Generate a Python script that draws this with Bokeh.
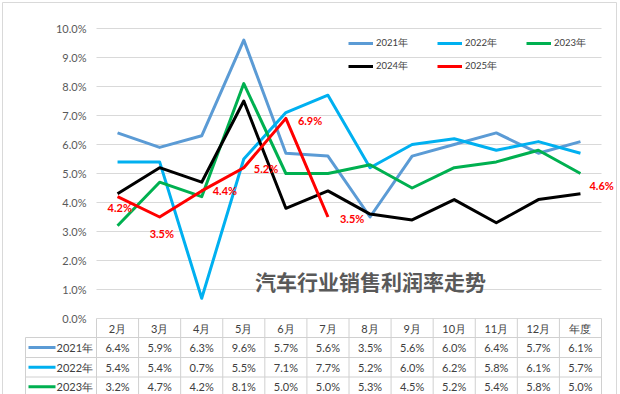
import numpy as np
from bokeh.plotting import figure
from bokeh.models import (Range1d, LinearAxis, FixedTicker, PrintfTickFormatter,
                          ColumnDataSource, Legend, LegendItem)
from bokeh.core.properties import value
from bokeh.embed import file_html
from bokeh.resources import INLINE

# ---------------- data ----------------
categories = ["2月", "3月", "4月", "5月", "6月", "7月", "8月", "9月", "10月", "11月", "12月", "年度"]
years = ["2021年", "2022年", "2023年", "2024年", "2025年"]
s2021 = [6.4, 5.9, 6.3, 9.6, 5.7, 5.6, 3.5, 5.6, 6.0, 6.4, 5.7, 6.1]
s2022 = [5.4, 5.4, 0.7, 5.5, 7.1, 7.7, 5.2, 6.0, 6.2, 5.8, 6.1, 5.7]
s2023 = [3.2, 4.7, 4.2, 8.1, 5.0, 5.0, 5.3, 4.5, 5.2, 5.4, 5.8, 5.0]
s2024 = [4.3, 5.2, 4.7, 7.5, 3.8, 4.4, 3.6, 3.4, 4.1, 3.3, 4.1, 4.3]
NaN = float("nan")
s2025 = [4.2, 3.5, 4.4, 5.2, 6.9, 3.5, NaN, NaN, NaN, NaN, NaN, 4.6]
y_ticks = [0, 1, 2, 3, 4, 5, 6, 7, 8, 9, 10]
title_text = "汽车行业销售利润率走势"

series = [s2021, s2022, s2023, s2024, s2025]
colors = ["#5B9BD5", "#00B0F0", "#00B050", "#000000", "#FF0000"]
table_rows = 3  # rows of the data table visible in the picture

# ---------------- layout (page pixels) ----------------
W, H = 620, 394
TBL_L, COL_L, COL_R = 25, 96, 601
Y0_PX, Y10_PX = 318, 28
PY = (Y0_PX - Y10_PX) / 10.0
CW = (COL_R - COL_L) / 12.0
ROW_BOUNDS = [318, 337, 357, 376.5, 396]
BORDER = (2, 616, 2)  # left, right, top of outer chart border


def X(px):
    return -0.5 + (px - COL_L) / CW


def Y(py):
    return (Y0_PX - py) / PY


p = figure(width=W, height=H, output_backend="svg", toolbar_location=None,
           x_range=Range1d(X(0), X(W)), y_range=Range1d(Y(H), Y(0)),
           x_axis_type=None, y_axis_type=None, min_border=0)
p.outline_line_color = None
p.background_fill_color = "white"
p.border_fill_color = "white"

# outer chart border
bl, br, bt = BORDER
p.segment(x0=[X(bl), X(bl), X(br)], x1=[X(br), X(bl), X(br)],
          y0=[Y(bt), Y(bt), Y(bt)], y1=[Y(bt), Y(H + 2), Y(H + 2)],
          line_color="#D9D9D9", line_width=1)

# y axis (drawn at the left edge of the category columns)
yax = LinearAxis(fixed_location=-0.5, ticker=FixedTicker(ticks=y_ticks),
                 formatter=PrintfTickFormatter(format="%.1f%%"))
yax.axis_line_color = None
yax.major_tick_line_color = None
yax.minor_tick_line_color = None
yax.major_tick_out = 0
yax.major_tick_in = 0
yax.major_label_standoff = 10
yax.major_label_text_font = "Lato"
yax.major_label_text_font_size = "11px"
yax.major_label_text_color = "#595959"
p.add_layout(yax, "left")

# x axis = header row of the data table
xax = LinearAxis(fixed_location=0, ticker=FixedTicker(ticks=list(range(len(categories)))))
xax.major_label_overrides = {i: c for i, c in enumerate(categories)}
xax.axis_line_color = None
xax.major_tick_line_color = None
xax.minor_tick_line_color = None
xax.major_tick_out = 0
xax.major_tick_in = 0
xax.major_label_standoff = 3
xax.major_label_text_font = "Lato"
xax.major_label_text_font_size = "11px"
xax.major_label_text_color = "#404040"
p.add_layout(xax, "below")

# grid lines (only over the category columns)
n = len(y_ticks)
p.segment(x0=[-0.5] * n, x1=[len(categories) - 0.5] * n, y0=y_ticks, y1=y_ticks,
          line_color="#D9D9D9", line_width=1)

# table borders
grid_c = "#D0D0D0"
vx = [i - 0.5 for i in range(len(categories) + 1)]
p.segment(x0=vx, x1=vx, y0=[Y(ROW_BOUNDS[0])] * len(vx), y1=[Y(ROW_BOUNDS[-1])] * len(vx),
          line_color=grid_c, line_width=1)
p.segment(x0=[X(TBL_L)], x1=[X(TBL_L)], y0=[Y(ROW_BOUNDS[1])], y1=[Y(ROW_BOUNDS[-1])],
          line_color=grid_c, line_width=1)
hy = [Y(b) for b in ROW_BOUNDS[1:-1]]
p.segment(x0=[X(TBL_L)] * len(hy), x1=[len(categories) - 0.5] * len(hy), y0=hy, y1=hy,
          line_color=grid_c, line_width=1)

# table content
cx, cy, ct = [], [], []
for r in range(table_rows):
    yc = Y((ROW_BOUNDS[r + 1] + ROW_BOUNDS[r + 2]) / 2.0)
    for i, v in enumerate(series[r]):
        cx.append(i)
        cy.append(yc)
        ct.append(f"{v:.1f}%")
p.text(x="x", y="y", text="t", source=ColumnDataSource(dict(x=cx, y=cy, t=ct)),
       text_align="center", text_baseline="middle", text_font=value("Lato"),
       text_font_size="11px", text_color="#404040")

row_y = [Y((ROW_BOUNDS[r + 1] + ROW_BOUNDS[r + 2]) / 2.0) for r in range(table_rows)]
p.segment(x0=[X(28)] * table_rows, x1=[X(55)] * table_rows, y0=row_y, y1=row_y,
          line_color=colors[:table_rows], line_width=3)
p.text(x=[X(56)] * table_rows, y=row_y, text=years[:table_rows],
       text_align="left", text_baseline="middle", text_font=value("Lato"),
       text_font_size="11px", text_color="#404040")

# chart title inside the plot
p.text(x=[X(370)], y=[Y(280)], text=[title_text], text_align="center", text_baseline="middle",
       text_font=value("Noto Sans CJK SC"), text_font_size="21px", text_font_style="bold",
       text_color="#595959")

# lines
xs = list(range(len(categories)))
renderers = []
for vals, col in zip(series, colors):
    r = p.line(x=xs, y=np.array(vals, dtype=float), line_color=col, line_width=3,
               line_join="round")
    renderers.append(r)

# 2025 data labels
lab_idx = [i for i, v in enumerate(s2025) if v == v]
label_dx = [-10, -10, 11, 10, 12, 12, 9]
label_dy = [11, 16, 0, 1, 2, 1, 0]
p.text(x="x", y="y", text="t", x_offset="dx", y_offset="dy",
       source=ColumnDataSource(dict(x=lab_idx, y=[s2025[i] for i in lab_idx],
                                    t=[f"{s2025[i]:.1f}%" for i in lab_idx],
                                    dx=label_dx, dy=label_dy)),
       text_align="left", text_baseline="middle", text_font=value("Lato"),
       text_font_size="11px", text_font_style="bold", text_color="#FF0000")


# legends (two rows)
def make_legend(ids, vy):
    leg = Legend(items=[LegendItem(label=years[i], renderers=[renderers[i]]) for i in ids],
                 location=(348, vy), orientation="horizontal")
    leg.glyph_width = 25
    leg.glyph_height = 14
    leg.label_standoff = 3
    leg.label_width = 36
    leg.label_height = 14
    leg.spacing = 25
    leg.padding = 0
    leg.margin = 0
    leg.border_line_color = None
    leg.background_fill_alpha = 0
    leg.label_text_font = "Lato"
    leg.label_text_font_size = "9.5px"
    leg.label_text_color = "#404040"
    return leg


p.add_layout(make_legend([0, 1, 2], H - 43 - 7))
p.add_layout(make_legend([3, 4], H - 66 - 7))

open("out.html", "w").write(file_html(p, INLINE))
